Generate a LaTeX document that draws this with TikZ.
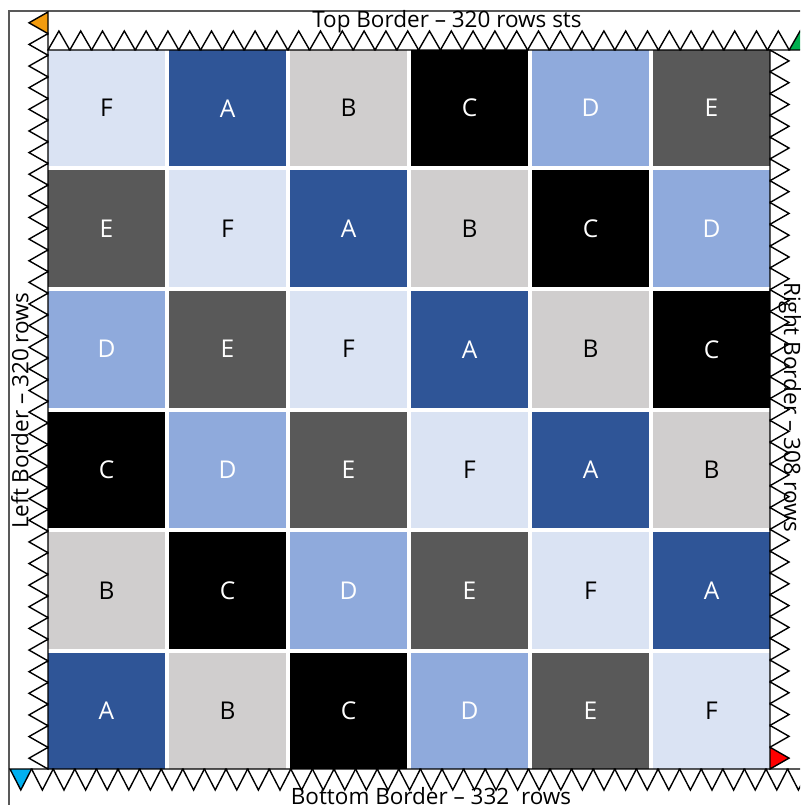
\documentclass[tikz,border=0pt]{standalone}
\usepackage{fontspec}
\setmainfont{Open Sans}
\definecolor{colA}{HTML}{2F5597}
\definecolor{colB}{HTML}{D0CECE}
\definecolor{colC}{HTML}{000000}
\definecolor{colD}{HTML}{8FAADC}
\definecolor{colE}{HTML}{595959}
\definecolor{colF}{HTML}{DAE3F3}
\definecolor{triOrange}{HTML}{F39C0F}
\definecolor{triGreen}{HTML}{00B050}
\definecolor{triRed}{HTML}{FF0000}
\definecolor{triBlue}{HTML}{00B0F0}
\definecolor{frameGray}{HTML}{595959}
\tikzset{
  cellbase/.style={rectangle, inner sep=0pt, minimum width=117pt, minimum height=116.5pt, font=\fontsize{24.5}{28}\selectfont},
  cellA/.style={cellbase, fill=colA, text=white},
  cellB/.style={cellbase, fill=colB, text=black},
  cellC/.style={cellbase, fill=colC, text=white},
  cellD/.style={cellbase, fill=colD, text=white},
  cellE/.style={cellbase, fill=colE, text=white},
  cellF/.style={cellbase, fill=colF, text=black},
  tooth/.style={draw=black, line width=1.4pt, line join=miter},
  borderlabel/.style={inner sep=0pt, font=\fontsize{22.5}{26}\selectfont},
  framebox/.style={draw=frameGray, line width=1.3pt}
}
\begin{document}
\begin{tikzpicture}[x=1pt,y=-1pt]
\useasboundingbox (0,0) rectangle (800,805);
\clip (0,0) rectangle (800,805);
\draw[framebox] (9,11) rectangle (840,840);
% cells
\foreach \row [count=\r from 0] in {{F,A,B,C,D,E},{E,F,A,B,C,D},{D,E,F,A,B,C},{C,D,E,F,A,B},{B,C,D,E,F,A},{A,B,C,D,E,F}}{
  \foreach \L [count=\c from 0] in \row {
    \node[cell\L] (cell\r\c) at ({48+121*\c+58.5},{50+120.5*\r+58.25}) {\L};
  }
}
% left sawtooth
\foreach \i in {0,...,34}{
  \pgfmathsetmacro\ya{12+\i*21.629}
  \pgfmathsetmacro\yb{12+(\i+0.5)*21.629}
  \pgfmathsetmacro\yc{12+(\i+1)*21.629}
  \ifnum\i=0
    \filldraw[tooth, fill=triOrange] (48,\ya) -- (29,\yb) -- (48,\yc) -- cycle;
  \else
    \draw[tooth] (48,\ya) -- (29,\yb) -- (48,\yc) -- cycle;
  \fi
}
% top sawtooth
\foreach \i in {0,...,34}{
  \pgfmathsetmacro\xa{48+\i*21.8}
  \pgfmathsetmacro\xb{48+(\i+0.5)*21.8}
  \pgfmathsetmacro\xc{48+(\i+1)*21.8}
  \ifnum\i=34
    \filldraw[tooth, fill=triGreen] (\xa,50) -- (\xb,31) -- (\xc,50) -- cycle;
  \else
    \draw[tooth] (\xa,50) -- (\xb,31) -- (\xc,50) -- cycle;
  \fi
}
% right sawtooth
\foreach \i in {0,...,32}{
  \pgfmathsetmacro\ya{50+\i*21.788}
  \pgfmathsetmacro\yb{50+(\i+0.5)*21.788}
  \pgfmathsetmacro\yc{50+(\i+1)*21.788}
  \ifnum\i=32
    \filldraw[tooth, fill=triRed] (770,\ya) -- (789,\yb) -- (770,\yc) -- cycle;
  \else
    \draw[tooth] (770,\ya) -- (789,\yb) -- (770,\yc) -- cycle;
  \fi
}
% bottom sawtooth
\foreach \i in {0,...,36}{
  \pgfmathsetmacro\xa{10+\i*21.6}
  \pgfmathsetmacro\xb{10+(\i+0.5)*21.6}
  \pgfmathsetmacro\xc{10+(\i+1)*21.6}
  \ifnum\i=0
    \filldraw[tooth, fill=triBlue] (\xa,769) -- (\xb,790) -- (\xc,769) -- cycle;
  \else
    \draw[tooth] (\xa,769) -- (\xb,790) -- (\xc,769) -- cycle;
  \fi
}
% labels
\node[borderlabel] (toplabel) at (447,22) {Top Border -- 320 rows sts};
\node[borderlabel] (bottomlabel) at (431,796) {Bottom Border -- 332\ \ rows};
\node[borderlabel, rotate=90] (leftlabel) at (20,411) {Left Border -- 320 rows};
\node[borderlabel, rotate=-90] (rightlabel) at (790,407) {Right Border -- 308 rows};
\end{tikzpicture}
\end{document}
